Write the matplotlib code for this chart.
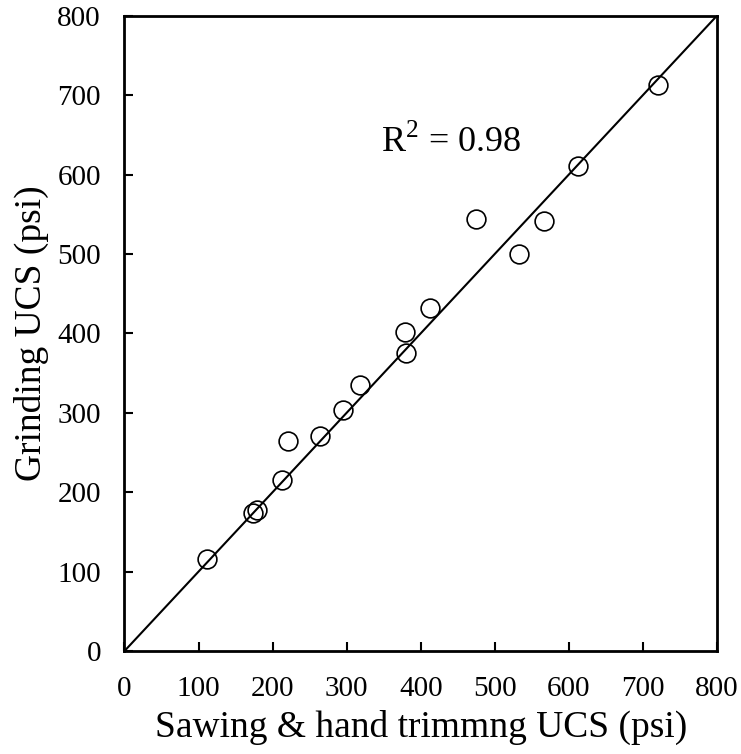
import numpy as np
import matplotlib
matplotlib.use("Agg")
import matplotlib.pyplot as plt

plt.rcParams['font.family'] = ['Liberation Serif', 'DejaVu Serif']
plt.rcParams['mathtext.fontset'] = 'custom'
plt.rcParams['mathtext.rm'] = 'Liberation Serif'

# === Data ===
sawing_ucs = [112, 174, 179, 213, 221, 264, 295, 318, 380, 379, 412, 474, 533, 566, 612, 720]
grinding_ucs = [116, 174, 177, 215, 264, 271, 303, 335, 375, 402, 432, 544, 500, 542, 611, 713]
line_x = [0, 800]
line_y = [0, 800]
ticks = [0, 100, 200, 300, 400, 500, 600, 700, 800]

fig = plt.figure(figsize=(7.41, 7.54), dpi=100)
ax = fig.add_axes([0.168, 0.1366, 0.7995, 0.8425])

ax.plot(line_x, line_y, color='black', lw=1.5, zorder=2)
ax.plot(sawing_ucs, grinding_ucs, 'o', ms=13.5, mfc='none', mec='black', mew=1.2, zorder=3)

ax.text(441, 641, r"R$^2$ = 0.98", fontsize=26, ha='center', va='center')

ax.set_xlim(0, 800)
ax.set_ylim(0, 800)
ax.set_xticks(ticks)
ax.set_yticks(ticks)
ax.tick_params(direction='in', length=6.5, width=1.5, labelsize=21)
ax.tick_params(axis='x', pad=18)
ax.tick_params(axis='y', pad=17)
for s in ax.spines.values():
    s.set_linewidth(2)

ax.set_xlabel("Sawing & hand trimmng UCS (psi)", fontsize=27, labelpad=6)
ax.set_ylabel("Grinding UCS (psi)", fontsize=27, labelpad=6)

fig.savefig("out.png", dpi=100)
